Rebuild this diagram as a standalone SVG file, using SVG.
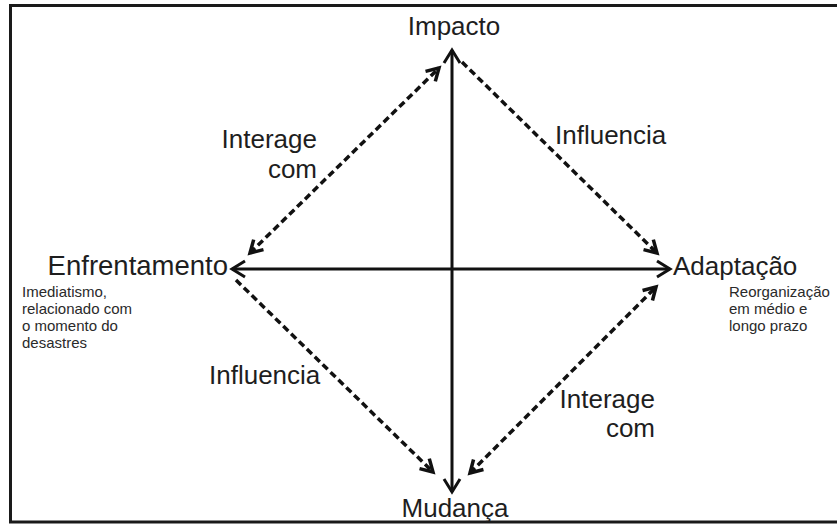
<svg xmlns="http://www.w3.org/2000/svg" width="837" height="524" viewBox="0 0 837 524">
<style>
.node{font-family:"Liberation Sans",Arial,sans-serif;font-size:26px;fill:#1e1e1e}
.lbl{font-family:"Liberation Sans",Arial,sans-serif;font-size:26px;fill:#1e1e1e}
.note{font-family:"Liberation Sans",Arial,sans-serif;font-size:15px;fill:#2a2a2a}
.axis{stroke:#111;stroke-width:3;fill:none}
.dash{stroke:#111;stroke-width:3.5;fill:none;stroke-dasharray:7 4}
</style>
<defs>
<marker id="ah" markerUnits="userSpaceOnUse" markerWidth="30" markerHeight="30" viewBox="-15 -15 30 30" refX="0" refY="0" orient="auto-start-reverse">
<path d="M-13,-8 L0,0 L-13,8" fill="none" stroke="#111" stroke-width="3"/>
</marker>
<marker id="dh" markerUnits="userSpaceOnUse" markerWidth="30" markerHeight="30" viewBox="-15 -15 30 30" refX="0" refY="0" orient="auto-start-reverse">
<path d="M-12,-7 L0,0 L-12,7" fill="none" stroke="#111" stroke-width="3.5"/>
</marker>
</defs>
<rect width="837" height="524" fill="#fff"/>
<path d="M837,5.5 H10.5 V522 H837" fill="none" stroke="#1a1a1a" stroke-width="3"/>
<g id="connectors">
<line class="axis" x1="452" y1="50" x2="452" y2="492" marker-start="url(#ah)" marker-end="url(#ah)"/>
<line class="axis" x1="232" y1="269" x2="670" y2="269" marker-start="url(#ah)" marker-end="url(#ah)"/>
<line class="dash" x1="250" y1="253" x2="439" y2="68" marker-start="url(#dh)" marker-end="url(#dh)"/>
<line class="dash" x1="462" y1="62" x2="657" y2="253" marker-end="url(#dh)"/>
<line class="dash" x1="236" y1="280" x2="433" y2="472" marker-end="url(#dh)"/>
<line class="dash" x1="470" y1="473" x2="656" y2="287" marker-start="url(#dh)" marker-end="url(#dh)"/>
<text class="lbl" x="317" y="148" text-anchor="end">Interage</text>
<text class="lbl" x="317" y="178" text-anchor="end">com</text>
<text class="lbl" x="555" y="144">Influencia</text>
<text class="lbl" x="209" y="384">Influencia</text>
<text class="lbl" x="655" y="408" text-anchor="end">Interage</text>
<text class="lbl" x="655" y="437" text-anchor="end">com</text>
</g>
<g id="impacto"><text class="node" x="454" y="35" text-anchor="middle">Impacto</text></g>
<g id="mudanca"><text class="node" x="455" y="517" text-anchor="middle">Mudança</text></g>
<g id="enfrentamento">
<text class="node" x="228" y="275" text-anchor="end" style="font-size:27.5px">Enfrentamento</text>
<text class="note" x="22" y="297">Imediatismo,</text>
<text class="note" x="22" y="314">relacionado com</text>
<text class="note" x="22" y="331">o momento do</text>
<text class="note" x="22" y="348">desastres</text>
</g>
<g id="adaptacao">
<text class="node" x="673" y="275">Adaptação</text>
<text class="note" x="729" y="297">Reorganização</text>
<text class="note" x="729" y="314">em médio e</text>
<text class="note" x="729" y="331">longo prazo</text>
</g>
</svg>
